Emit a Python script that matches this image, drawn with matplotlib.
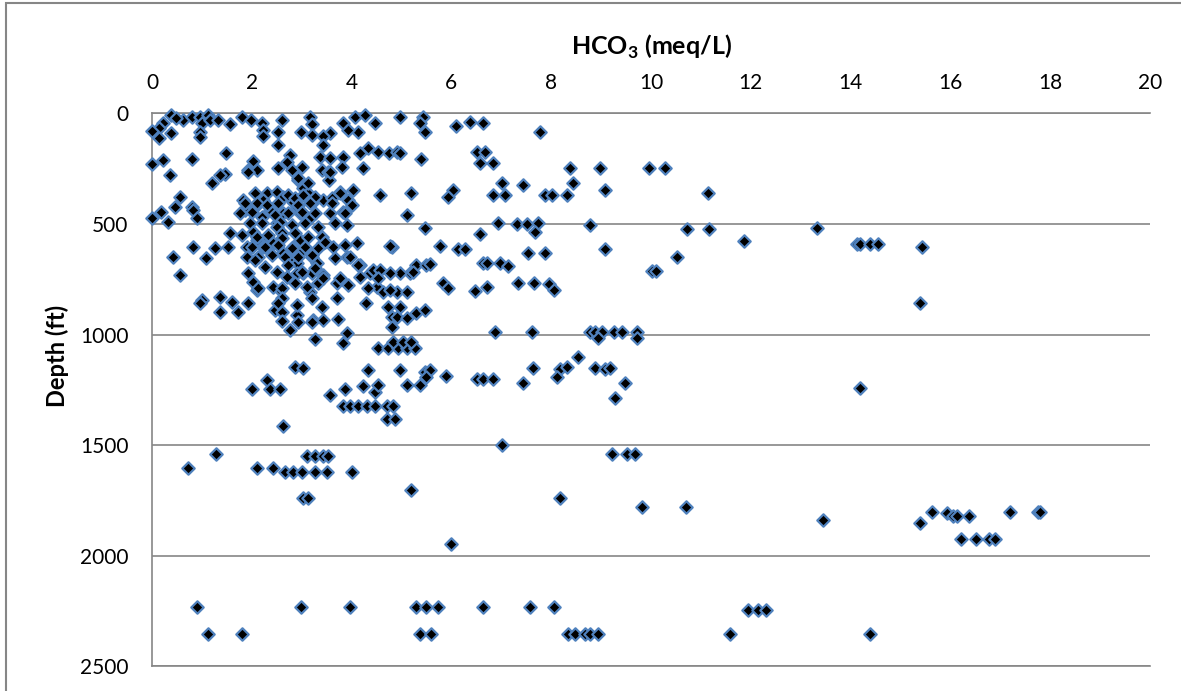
import matplotlib
matplotlib.use("Agg")
import matplotlib.pyplot as plt
from matplotlib.patches import Rectangle

# HCO3 (meq/L) and depth (ft) of well samples, grouped by depth range
hco3_shallow = [0.39, 0.63, 0.80, 0.96, 1.13, 1.00, 1.16, 1.33, 1.56, 1.80, 1.99, 2.20, 2.23, 2.60, 2.53, 2.23,
                3.17, 3.20, 2.98, 3.20, 3.57, 3.43, 3.83, 4.07, 4.27, 4.47, 4.13, 3.93, 4.97, 5.44, 5.37, 5.47,
                0.23, 0.15, 0.00, 0.39, 0.49, 0.96, 0.96, 0.15, 6.10, 6.37, 6.64, 7.78, 2.53, 3.43]
depth_shallow = [7, 29, 14, 14, 7, 44, 29, 29, 48, 14, 29, 41, 75, 29, 82, 102,
                 14, 48, 82, 97, 90, 102, 41, 14, 7, 44, 82, 75, 14, 14, 44, 82,
                 44, 67, 78, 90, 22, 82, 105, 112, 57, 37, 41, 82, 142, 142]

hco3_upper = [1.49, 0.80, 0.23, 0.00, 0.36, 1.20, 1.46, 1.36, 2.03, 1.93, 2.10, 2.53, 2.77, 2.70, 2.80, 3.00,
              2.93, 3.37, 3.57, 3.40, 3.53, 3.55, 3.83, 3.80, 4.33, 4.17, 4.53, 4.74, 4.90, 4.97, 4.23, 5.40,
              6.51, 6.67, 6.57, 6.84, 8.38, 8.98, 9.95, 10.28, 7.01, 7.44, 8.44, 9.08, 11.15, 4.57, 5.20, 6.04,
              5.94, 6.84, 7.07, 7.88, 8.01, 8.31, 5.10,
              0.56, 0.46, 0.80, 0.83, 0.90, 0.00, 0.19, 0.33, 1.83, 2.06, 2.30, 2.50, 2.63, 2.83, 3.03, 3.13,
              3.27, 3.43, 3.60, 3.77, 4.03, 3.93, 3.83, 3.57, 3.67, 3.90, 1.86, 2.06, 2.23, 1.96, 2.36, 2.50,
              2.63, 2.90, 2.96, 3.17,
              1.93, 2.93, 3.13, 2.73, 2.87, 3.03, 3.27, 1.86, 2.10, 2.30, 2.53, 2.93, 3.17, 1.76, 2.00, 2.20,
              2.47, 2.73, 3.00, 3.27, 2.20, 2.57, 3.07,
              3.57, 3.77, 3.60, 3.87, 4.00]
depth_upper = [180, 207, 210, 230, 278, 316, 274, 278, 215, 255, 255, 248, 188, 218, 255, 240,
               301, 195, 203, 255, 263, 301, 195, 240, 158, 180, 173, 180, 173, 180, 248, 207,
               176, 176, 225, 225, 248, 248, 248, 248, 316, 323, 316, 346, 358, 369, 361, 346,
               376, 369, 369, 369, 369, 369, 459,
               376, 421, 421, 436, 474, 474, 444, 489, 391, 361, 361, 353, 376, 399, 338, 361,
               391, 391, 384, 353, 346, 391, 444, 451, 497, 504, 436, 421, 391, 497, 436, 497,
               451, 421, 451, 474,
               263, 293, 316, 368, 384, 368, 376, 406, 406, 414, 406, 414, 406, 451, 444, 466,
               459, 451, 444, 451, 496, 489, 496,
               263, 361, 406, 451, 414]

hco3_middle = [1.80, 2.03, 2.10, 2.23, 2.30, 2.50, 2.60, 2.43, 2.63, 2.83, 2.96, 3.03, 2.76, 2.90, 3.20, 3.30,
               3.43, 3.63, 3.87, 4.10, 3.90, 4.17, 4.80, 5.30, 5.50, 5.17, 4.97, 4.77, 4.50, 4.37, 4.50, 4.63,
               4.90, 5.10, 1.90, 1.90, 1.93, 2.13, 2.26, 2.50, 2.70, 2.90, 3.03, 3.20, 3.43, 3.70, 3.93, 3.17,
               2.56, 2.43, 2.10, 0.83, 1.26, 1.53, 1.09, 0.43, 0.56, 1.36, 1.00,
               2.80, 3.33, 1.56, 2.10, 2.33, 2.60, 2.87, 3.13, 3.40, 2.00, 2.26, 2.53, 2.80, 3.07, 3.33, 2.40,
               2.67, 2.93, 3.20,
               2.06, 2.73, 3.00, 3.27, 2.03, 2.13, 2.60, 2.87, 3.10, 3.33, 2.60, 3.20, 2.90, 3.23, 2.47,
               3.47, 4.77, 3.67, 3.97, 4.13, 4.43, 4.57, 5.23, 3.43, 3.77, 4.17, 4.53, 4.33, 4.77, 3.70, 3.43,
               5.47, 5.77, 6.14, 6.27, 6.57, 6.94, 7.31, 7.51, 7.74, 7.68, 8.78, 7.54, 7.88, 5.57, 6.64, 6.71,
               6.97, 7.14, 5.84, 5.94, 6.47, 6.71, 7.34, 7.66, 7.96, 8.06,
               10.73, 11.17, 11.87, 13.33, 14.12, 14.19, 14.38, 14.55, 15.42, 15.38, 10.02, 10.10, 10.53, 9.07]
depth_middle = [549, 534, 572, 602, 557, 512, 542, 587, 632, 602, 572, 617, 662, 677, 647, 677,
                587, 602, 595, 587, 647, 685, 602, 685, 685, 723, 723, 723, 723, 723, 783, 805,
                805, 805, 602, 647, 723, 647, 692, 715, 738, 723, 723, 723, 730, 768, 775, 805,
                798, 783, 798, 602, 610, 602, 655, 647, 730, 828, 843,
                504, 512, 542, 557, 549, 564, 542, 557, 557, 602, 602, 595, 610, 602, 610, 640,
                647, 647, 640,
                662, 685, 715, 700, 760, 791, 791, 768, 783, 768, 836, 836, 911, 933, 888,
                579, 598, 655, 647, 685, 708, 708, 715, 745, 745, 738, 745, 790, 798, 836, 933,
                516, 599, 612, 612, 545, 497, 500, 500, 497, 534, 504, 629, 629, 682, 677, 677,
                677, 688, 765, 790, 801, 786, 768, 768, 771, 798,
                524, 524, 577, 520, 592, 592, 592, 592, 602, 858, 711, 711, 650, 613]

hco3_lower = [0.96, 1.36, 1.60, 1.73, 1.93, 2.53, 2.60, 2.60, 2.90, 2.93, 2.76, 3.20, 3.40, 3.73, 3.27, 3.90,
              3.83, 4.29, 4.73, 4.97, 4.80, 4.90, 5.10, 5.30, 5.47, 4.80, 4.53, 4.73, 4.93, 5.10, 5.27, 4.83,
              5.03, 5.20, 2.86, 3.03, 2.30, 2.00, 2.36, 2.56, 3.57, 3.87, 4.23, 4.33, 4.47, 4.53, 4.97, 5.10,
              5.37, 5.47, 3.83, 3.97, 4.13, 4.30, 4.47, 4.70, 4.83, 4.70, 4.87, 2.63, 5.57, 5.50,
              6.87, 7.61, 8.78, 8.88, 9.01, 9.25, 9.41, 9.71, 8.94, 9.71, 5.90, 6.51, 6.64, 6.84, 7.64, 7.44,
              8.18, 8.31, 8.11, 8.54, 8.88, 9.08, 9.18, 9.48, 9.28, 7.01, 14.19]
depth_lower = [858, 896, 851, 896, 858, 858, 896, 936, 866, 941, 979, 941, 873, 930, 1021, 994,
               1039, 858, 873, 873, 918, 918, 926, 903, 888, 964, 1062, 1062, 1062, 1062, 1062, 1031,
               1031, 1031, 1144, 1149, 1205, 1247, 1247, 1247, 1272, 1247, 1232, 1162, 1257, 1227, 1162, 1227,
               1227, 1167, 1322, 1322, 1322, 1322, 1322, 1322, 1322, 1381, 1381, 1411, 1160, 1190,
               986, 986, 986, 986, 986, 986, 986, 986, 1016, 1016, 1187, 1202, 1202, 1202, 1152, 1217,
               1156, 1144, 1193, 1102, 1152, 1156, 1152, 1217, 1288, 1499, 1241]

hco3_deep = [1.28, 0.73, 2.10, 2.43, 2.66, 2.83, 3.00, 3.27, 3.50, 3.10, 3.27, 3.43, 3.53, 4.00, 5.20, 3.03,
             3.13, 9.21, 9.51, 9.68, 8.18, 9.81, 10.71, 6.00,
             13.45, 15.38, 15.64, 15.94, 16.05, 16.14, 16.37, 17.19, 17.75, 17.80, 16.22, 16.51, 16.78, 16.89,
             11.94, 12.14, 12.31, 11.58, 14.38,
             0.90, 2.99, 3.97, 5.29, 5.50, 5.74, 6.64, 7.57, 8.05,
             1.13, 1.81, 5.37, 5.59, 8.33, 8.47, 8.67, 8.77, 8.93]
depth_deep = [1539, 1604, 1604, 1604, 1619, 1619, 1619, 1619, 1619, 1547, 1547, 1547, 1547, 1619, 1702, 1737,
              1737, 1539, 1539, 1539, 1737, 1780, 1780, 1948,
              1840, 1852, 1800, 1807, 1819, 1819, 1819, 1800, 1800, 1800, 1925, 1925, 1925, 1925,
              2244, 2244, 2244, 2352, 2352,
              2230, 2230, 2230, 2230, 2230, 2230, 2230, 2230, 2230,
              2353, 2353, 2353, 2353, 2353, 2353, 2353, 2353, 2353]

hco3 = hco3_shallow + hco3_upper + hco3_middle + hco3_lower + hco3_deep
depth = depth_shallow + depth_upper + depth_middle + depth_lower + depth_deep

x_ticks = list(range(0, 21, 2))
y_ticks = list(range(0, 2501, 500))

plt.rcParams['font.family'] = 'Lato'
plt.rcParams['mathtext.fontset'] = 'custom'
plt.rcParams['mathtext.rm'] = 'Lato'
plt.rcParams['mathtext.bf'] = 'Lato:bold'

GRAY = '#868686'

fig = plt.figure(figsize=(11.81, 6.91), dpi=100)
ax = fig.add_axes([0.1287, 0.0355, 0.8451, 0.8003])

ax.scatter(hco3, depth, marker='D', s=40, c='black', edgecolors='#4f81bd',
           linewidths=1.6, zorder=3, clip_on=False)

ax.set_xlim(0, 20)
ax.set_ylim(2500, 0)
ax.xaxis.tick_top()
ax.set_xticks(x_ticks)
ax.set_yticks(y_ticks)
ax.tick_params(axis='both', length=0, labelsize=15, labelcolor='black')
ax.tick_params(axis='x', pad=15)
ax.tick_params(axis='y', pad=17)

ax.yaxis.grid(True, color=GRAY, linewidth=1.2)
ax.set_axisbelow(True)
for side in ['top', 'left', 'bottom']:
    ax.spines[side].set_color(GRAY)
    ax.spines[side].set_linewidth(1.2)
ax.spines['right'].set_visible(False)

fig.text(652 / 1181, 1 - 47 / 691, r'HCO$_\mathbf{3}$ (meq/L)', ha='center', va='center',
         fontsize=18, fontweight='bold')
fig.text(57 / 1181, 1 - 356 / 691, 'Depth (ft)', ha='center', va='center',
         rotation=90, fontsize=17, fontweight='bold')

# chart frame
fig.patches.append(Rectangle((0.0051, -0.05), 1.1, 1.045, transform=fig.transFigure,
                             fill=False, edgecolor=GRAY, linewidth=1.5))

fig.savefig('out.png', dpi=100)
